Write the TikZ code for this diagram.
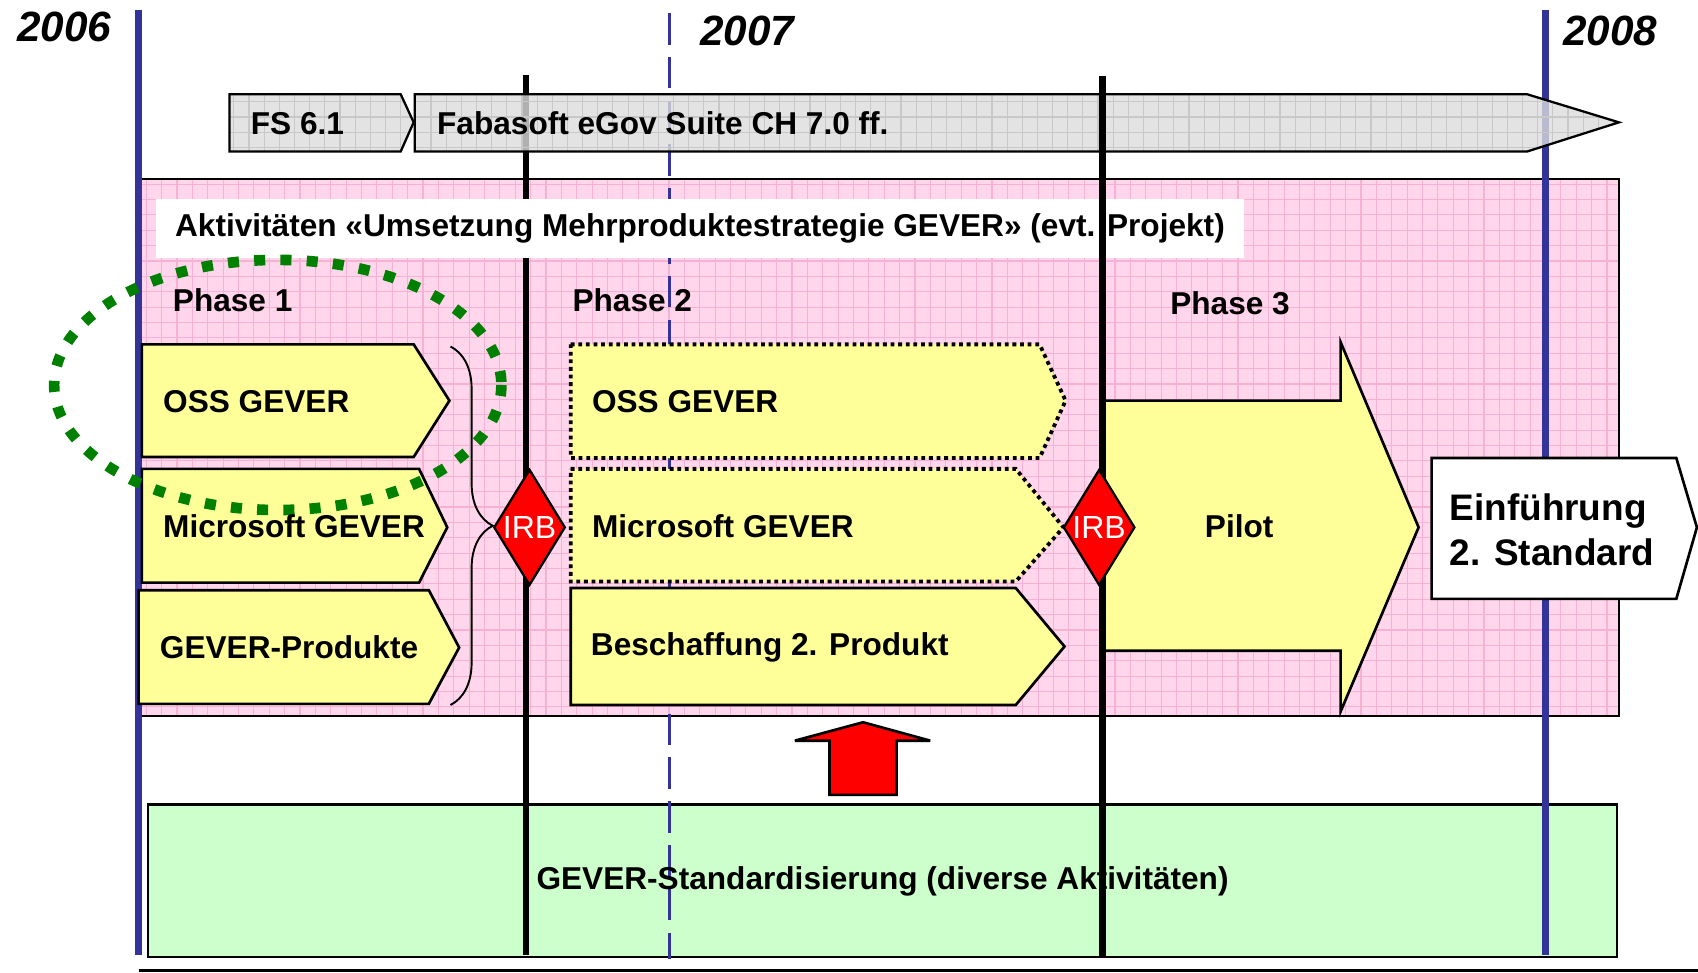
\documentclass[tikz,border=0pt]{standalone}
\usepackage{fontspec}
\setmainfont{Liberation Sans}
\usetikzlibrary{shapes.geometric,decorations.pathreplacing}

\definecolor{yearblue}{HTML}{333399}
\definecolor{pinkfill}{HTML}{FFD6EB}
\definecolor{pinkgrid}{HTML}{F8B0D5}
\definecolor{phaseyellow}{HTML}{FFFF99}
\definecolor{stdgreen}{HTML}{CCFFCC}
\definecolor{bargray}{HTML}{DCDCDC}
\definecolor{bargrid}{HTML}{C8C8C8}
\definecolor{ovalgreen}{HTML}{008000}

\tikzset{
  lbl/.style={font=\fontsize{8.3}{10}\selectfont\bfseries, inner sep=0pt, anchor=west},
  yearlbl/.style={font=\fontsize{11.1}{13}\selectfont\bfseries\itshape, inner sep=0pt, anchor=west},
  yearline/.style={yearblue, line width=1.8pt},
  halfyear/.style={yearblue, line width=0.9pt, dash pattern=on 8.3pt off 3.2pt},
  gate/.style={black, line width=1.7pt},
  phasebox/.style={draw=black, line width=0.7pt, fill=phaseyellow},
  openbox/.style={phasebox, line width=1pt, dash pattern=on 1pt off 1pt},
  barbox/.style={fill=bargray, fill opacity=0.8},
  irb/.style={diamond, draw=black, line width=0.6pt, fill=red, inner sep=0pt,
    minimum width=0.66cm, minimum height=1.07cm,
    label={[font=\fontsize{8.4}{10}\selectfont, text=white, inner sep=0pt]center:IRB}},
}

\begin{document}
\begin{tikzpicture}[x=0.01cm, y=-0.01cm]
\useasboundingbox (0,0) rectangle (1568,898);

% pink area
\fill[pinkfill] (130,165) rectangle (1495,661);
\begin{scope}
\clip (130,165) rectangle (1495,661);
\foreach \gx in {135,149.2,...,1500} \draw[pinkgrid, line width=0.3pt] (\gx,165) -- (\gx,661);
\foreach \gy in {170,184.2,...,665} \draw[pinkgrid, line width=0.3pt] (130,\gy) -- (1495,\gy);
\end{scope}
\draw[line width=0.6pt] (130,165) rectangle (1495,661);

% green area
\node[draw=black, line width=0.6pt, fill=stdgreen, inner sep=0pt,
  minimum width=13.56cm, minimum height=1.41cm] (std) at (815,813.5) {};

% time lines
\draw[halfyear] (618,12) -- (618,886);
\draw[yearline] (128,9) -- (128,882);
\draw[yearline] (1427,9) -- (1427,882);
\draw[gate] (485.5,69) -- (485.5,882);
\draw[line width=0.9pt] (128,896) -- (1568,896);

% product bar
\fill[barbox] (212,87) -- (370,87) -- (382,113) -- (370,140) -- (212,140) -- cycle;
\fill[barbox] (383,87) -- (1410,87) -- (1495,113) -- (1410,140) -- (383,140) -- cycle;
\begin{scope}
\clip (212,87) -- (370,87) -- (382,113) -- (370,140) -- (212,140) -- cycle
      (383,87) -- (1410,87) -- (1495,113) -- (1410,140) -- (383,140) -- cycle;
\foreach \gx in {216,230,...,1495} \draw[bargrid, line width=0.3pt] (\gx,87) -- (\gx,140);
\foreach \gy in {94,108,122,136} \draw[bargrid, line width=0.3pt] (212,\gy) -- (1495,\gy);
\end{scope}
\draw[line width=0.6pt] (212,87) -- (370,87) -- (382,113) -- (370,140) -- (212,140) -- cycle;
\draw[line width=0.6pt] (383,87) -- (1410,87) -- (1495,113) -- (1410,140) -- (383,140) -- cycle;

% phase boxes
\draw[phasebox] (131,318) -- (382,318) -- (415,370) -- (382,422) -- (131,422) -- cycle;
\draw[phasebox] (131,433) -- (387,433) -- (413,487) -- (387,538) -- (131,538) -- cycle;
\draw[phasebox] (128,545) -- (396,545) -- (424,598) -- (396,650) -- (128,650) -- cycle;
\draw[openbox] (527,318) -- (960,318) -- (984,370) -- (960,423) -- (527,423) -- cycle;
\draw[openbox] (527,433) -- (938,433) -- (982,487) -- (938,537) -- (527,537) -- cycle;
\draw[phasebox] (527,543) -- (938,543) -- (983,597) -- (938,651) -- (527,651) -- cycle;
\draw[phasebox] (1018,370) -- (1238,370) -- (1238,316) -- (1310,487) -- (1238,657)
  -- (1238,601) -- (1018,601) -- cycle;
\draw[line width=0.7pt, fill=white] (1322,423) -- (1548,423) -- (1567,487) -- (1548,553)
  -- (1322,553) -- cycle;
\draw[decorate, decoration={brace, amplitude=0.39cm}, line width=0.5pt] (416,320) -- (416,651);

\path (143,211) node[lbl, fill=white, inner xsep=0.18cm, minimum height=0.54cm] (akt)
        {Aktivitäten «Umsetzung Mehrproduktestrategie GEVER» (evt. Projekt)};
\draw[gate] (1018,70) -- (1018,885);

% gates
\node[irb] (irb1) at (489,487) {};
\node[irb] (irb2) at (1015,487) {};

% red arrow
\draw[fill=red, line width=0.7pt, miter limit=2] (734,684) -- (797,667) -- (859,684) -- (828,684)
  -- (828,734) -- (766,734) -- (766,684) -- cycle;

% oval
\draw[ovalgreen, line width=2.8pt, dash pattern=on 2.9pt off 4pt]
  (256.5,355.5) ellipse [x radius=206.5, y radius=115.5];

% labels
\path (15,25) node[yearlbl] (y2006) {2006}
      (646,29) node[yearlbl] (y2007) {2007}
      (1443,29) node[yearlbl] (y2008) {2008}
      (231,114) node[lbl] (fs) {FS 6.1}
      (403,114) node[lbl] (suite) {Fabasoft eGov Suite CH 7.0 ff.}
      (159,277) node[lbl] (ph1) {Phase 1}
      (528,277) node[lbl] (ph2) {Phase 2}
      (1080,280) node[lbl] (ph3) {Phase 3}
      (150,371) node[lbl] (oss1) {OSS GEVER}
      (150,486) node[lbl] (ms1) {Microsoft GEVER}
      (147,598) node[lbl] (prod) {GEVER-Produkte}
      (546,371) node[lbl] (oss2) {OSS GEVER}
      (546,486) node[lbl] (ms2) {Microsoft GEVER}
      (545,598) node[lbl] (besch) {Beschaffung 2. Produkt}
      (1112,486) node[lbl] (pilot) {Pilot}
      (1338,489) node[lbl, font=\fontsize{9.7}{11.7}\selectfont\bfseries, align=left] (intro)
        {Einführung\\2. Standard}
      (std.center) node[lbl, anchor=center] (stdtext) {GEVER-Standardisierung (diverse Aktivitäten)}
      ;
\end{tikzpicture}
\end{document}
